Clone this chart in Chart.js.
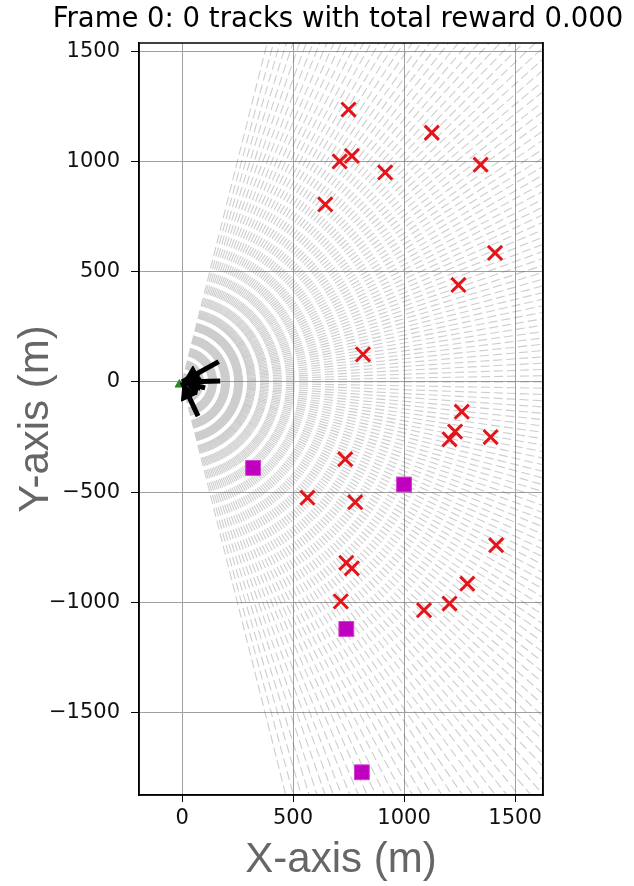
<!DOCTYPE html>
<html>
<head>
<meta charset="utf-8">
<script src="https://cdn.jsdelivr.net/npm/chart.js@4"></script>
<style>
  html, body { margin: 0; padding: 0; background: #fff; }
  canvas { display: block; }
</style>
</head>
<body>
<canvas id="myChart" width="634" height="886"></canvas>
<script>
// axis ticks
const xTicks = [0, 500, 1000, 1500]
const yTicks = [-1500, -1000, -500, 0, 500, 1000, 1500]

// red x markers (targets)
const targetX = [750, 1125, 710, 765, 915, 1345, 645, 1410, 1245, 815, 1260, 1230, 1205, 1390, 735, 565, 780, 1415, 740, 765, 1285, 715, 1090, 1205]
const targetY = [1235, 1130, 1000, 1025, 950, 985, 805, 585, 440, 125, -135, -225, -260, -250, -350, -525, -545, -740, -820, -845, -915, -995, -1035, -1005]

// magenta squares
const squareX = [320, 1000, 740, 810]
const squareY = [-390, -465, -1120, -1770]

// black arrows from the origin
const arrowX = [165, 172, 72, 104]
const arrowY = [92, 4, -155, -27]

// sensor position
const sensorX = [-12]
const sensorY = [-12]

// radial beam fan
const beamFrom = -76
const beamTo = 76
const beamStep = 1
const beamRange = 3200

const gap = {x: NaN, y: NaN}

const beamPts = []
for (let a = beamFrom; a <= beamTo; a += beamStep) {
    const r = a * Math.PI / 180
    beamPts.push({x: 0, y: 0}, {x: beamRange * Math.cos(r), y: beamRange * Math.sin(r)}, gap)
}

const arrowPts = []
const headPts = []
const headRot = []
arrowX.forEach((x, i) => {
    arrowPts.push({x: x, y: arrowY[i]}, {x: 0, y: 0}, gap)
    const ang = Math.atan2(arrowY[i], x)
    headPts.push({x: 55 * Math.cos(ang), y: 55 * Math.sin(ang)})
    headRot.push(-90 - ang * 180 / Math.PI)
})

const frame = {
    id: 'frame',
    afterDraw(chart) {
        const {ctx, chartArea: a} = chart
        ctx.save()
        ctx.strokeStyle = '#000'
        ctx.lineWidth = 1.5
        ctx.strokeRect(a.left, a.top, a.right - a.left, a.bottom - a.top)
        ctx.restore()
    }
}

const fmt = v => v < 0 ? '\u2212' + Math.abs(v) : String(v)

new Chart(document.getElementById('myChart'), {
    type: 'scatter',
    data: {
        datasets: [
            {
                label: 'targets',
                data: targetX.map((x, i) => ({x: x, y: targetY[i]})),
                pointStyle: 'crossRot',
                pointRadius: 10,
                pointBorderWidth: 3,
                borderColor: '#e4141a',
                backgroundColor: '#e4141a'
            },
            {
                label: 'squares',
                data: squareX.map((x, i) => ({x: x, y: squareY[i]})),
                pointStyle: 'rect',
                pointRadius: 10.5,
                pointBorderWidth: 1,
                borderColor: '#d040d0',
                backgroundColor: '#bf00bf'
            },
            {
                label: 'heads',
                data: headPts,
                pointStyle: 'triangle',
                pointRadius: 10,
                rotation: headRot,
                borderColor: '#000',
                backgroundColor: '#000'
            },
            {
                label: 'arrows',
                type: 'line',
                data: arrowPts,
                borderColor: '#000',
                borderWidth: 5,
                pointRadius: 0,
                spanGaps: false
            },
            {
                label: 'sensor',
                data: sensorX.map((x, i) => ({x: x, y: sensorY[i]})),
                pointStyle: 'triangle',
                pointRadius: 5,
                borderColor: '#2a8a2a',
                backgroundColor: '#2a8a2a'
            },
            {
                label: 'beams',
                type: 'line',
                data: beamPts,
                borderColor: 'rgba(100,100,100,0.32)',
                borderWidth: 1.1,
                borderDash: [9, 4],
                pointRadius: 0,
                spanGaps: false
            }
        ]
    },
    options: {
        responsive: false,
        animation: false,
        layout: {padding: {top: 0, right: 0, bottom: 0, left: 42}},
        plugins: {
            legend: {display: false},
            tooltip: {enabled: false},
            title: {
                display: true,
                text: 'Frame 0: 0 tracks with total reward 0.000',
                color: '#000',
                font: {family: 'DejaVu Sans', size: 27.5, weight: 'normal'},
                padding: {top: 3, bottom: 7}
            }
        },
        scales: {
            x: {
                type: 'linear',
                min: -194,
                max: 1626,
                afterBuildTicks: s => { s.ticks = xTicks.map(v => ({value: v})) },
                afterFit: s => { s.height = 91 },
                ticks: {
                    callback: fmt,
                    color: '#111',
                    font: {family: 'DejaVu Sans', size: 21},
                    padding: 4,
                    maxRotation: 0
                },
                grid: {color: '#a0a0a0', lineWidth: 1, tickLength: 7, tickColor: '#000'},
                border: {color: '#000', width: 1.5},
                title: {
                    display: true,
                    text: 'X-axis (m)',
                    color: '#666',
                    font: {family: 'Liberation Sans', size: 42},
                    padding: {top: 0, bottom: 0}
                }
            },
            y: {
                type: 'linear',
                min: -1873,
                max: 1537,
                afterBuildTicks: s => { s.ticks = yTicks.map(v => ({value: v})) },
                afterFit: s => { s.width = 97 },
                ticks: {
                    callback: fmt,
                    color: '#111',
                    font: {family: 'DejaVu Sans', size: 21},
                    padding: 11
                },
                grid: {color: '#a0a0a0', lineWidth: 1, tickLength: 8, tickColor: '#000'},
                border: {color: '#000', width: 1.5},
                title: {
                    display: true,
                    text: 'Y-axis (m)',
                    color: '#666',
                    font: {family: 'Liberation Sans', size: 42},
                    padding: {top: -31, bottom: 0}
                }
            },
            yRight: {
                type: 'linear',
                position: 'right',
                min: -1873,
                max: 1537,
                afterFit: s => { s.width = 91 },
                ticks: {display: false},
                grid: {display: false},
                border: {color: '#000', width: 1.5}
            }
        }
    },
    plugins: [frame]
})
</script>
</body>
</html>
